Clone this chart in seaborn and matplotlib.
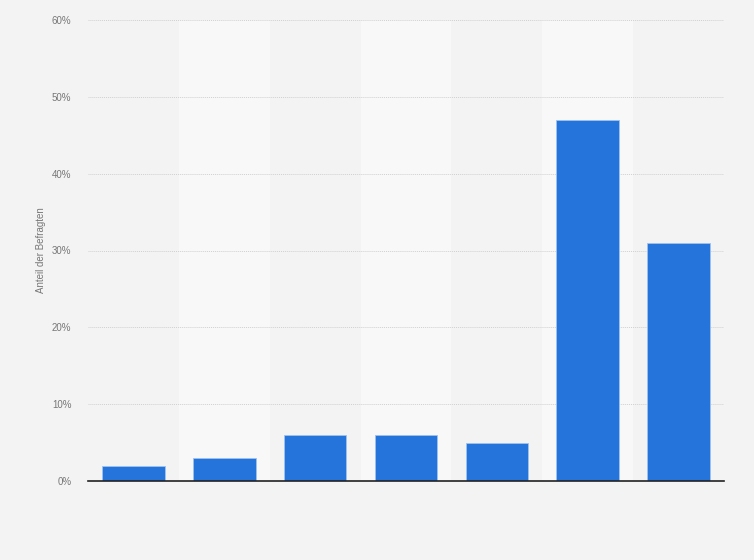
import matplotlib
matplotlib.use("Agg")
import matplotlib.pyplot as plt
import seaborn as sns
import pandas as pd
from matplotlib.ticker import FuncFormatter

categories = ["1", "2", "3", "4", "5", "6", "7"]
values = [2, 3, 6, 6, 5, 47, 31]
y_ticks = [0, 10, 20, 30, 40, 50, 60]
y_label = "Anteil der Befragten"

df = pd.DataFrame({"cat": categories, "val": values})

sns.set_theme(style="white")
plt.rcParams['font.family'] = ['Liberation Sans', 'DejaVu Sans']

fig = plt.figure(figsize=(7.54, 5.6), dpi=100)
fig.patch.set_facecolor("#f3f3f3")
ax = fig.add_axes([88/754, 79/560, 636/754, 461/560])
ax.set_facecolor("#f3f3f3")

for i in range(len(categories)):
    if i % 2 == 1:
        ax.axvspan(i - 0.5, i + 0.5, color="#f8f8f8", zorder=0, lw=0)

sns.barplot(data=df, x="cat", y="val", color="#2574dc", saturation=1,
            width=0.69, ax=ax, zorder=3, edgecolor="#9fc3f0", linewidth=0.6)

ax.set_xlim(-0.5, len(categories) - 0.5)
ax.set_ylim(0, 60)
ax.set_yticks(y_ticks)
ax.yaxis.set_major_formatter(FuncFormatter(lambda v, p: f"{int(v)}%"))
ax.tick_params(axis="y", labelsize=7, colors="#777777", length=0, pad=12)
ax.set_xticks([])
ax.set_xlabel("")
ax.set_ylabel(y_label, fontsize=7, color="#777777", labelpad=4)
ax.grid(axis="y", color="#d0d0d0", linestyle=(0, (1, 1)), linewidth=0.7, zorder=1)
ax.set_axisbelow(True)
for s in ["top", "right", "left"]:
    ax.spines[s].set_visible(False)
ax.spines["bottom"].set_color("#222222")
ax.spines["bottom"].set_linewidth(1.2)
ax.spines["bottom"].set_zorder(5)

fig.savefig("out.png", dpi=100, facecolor=fig.get_facecolor())
